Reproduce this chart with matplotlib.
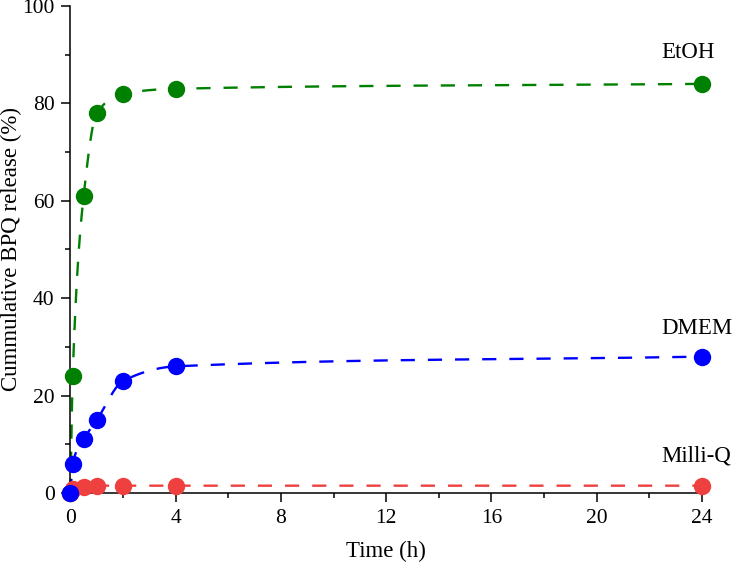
import numpy as np
import matplotlib
matplotlib.use("Agg")
import matplotlib.pyplot as plt
from matplotlib.ticker import MultipleLocator

# Datos
time_h = [0, 0.083, 0.5, 1, 2, 4, 24]
etoh = [0, 24, 61, 78, 82, 83, 84]
dmem = [0, 6, 11, 15, 23, 26, 28]
milliq = [0, 0.8, 1.3, 1.5, 1.5, 1.5, 1.5]

names = ["EtOH", "Milli-Q", "DMEM"]
colors = ["#008000", "#EF4040", "#0000FF"]
label_y = [90.5, 7.5, 33.8]


def smooth(x, y, n=400):
    # curva monotona (Fritsch-Carlson) solo para dibujar la linea
    x = np.asarray(x, float)
    y = np.asarray(y, float)
    h = np.diff(x)
    d = np.diff(y) / h
    m = np.zeros_like(y)
    m[0], m[-1] = d[0], d[-1]
    for i in range(1, len(x) - 1):
        if d[i - 1] * d[i] > 0:
            w1 = 2 * h[i] + h[i - 1]
            w2 = h[i] + 2 * h[i - 1]
            m[i] = (w1 + w2) / (w1 / d[i - 1] + w2 / d[i])
    xs, ys = [], []
    for i in range(len(x) - 1):
        t = np.linspace(0, 1, n)
        h00 = 2 * t**3 - 3 * t**2 + 1
        h10 = t**3 - 2 * t**2 + t
        h01 = -2 * t**3 + 3 * t**2
        h11 = t**3 - t**2
        xs.append(x[i] + t * h[i])
        ys.append(h00 * y[i] + h10 * h[i] * m[i] + h01 * y[i + 1] + h11 * h[i] * m[i + 1])
    return np.concatenate(xs), np.concatenate(ys)


plt.rcParams['font.family'] = ['Liberation Serif', 'DejaVu Serif']

fig = plt.figure(figsize=(7.35, 5.66), dpi=100)
ax = fig.add_axes([0.0959, 0.129, 0.8592, 0.8605])

for name, vals, c, ly in zip(names, [etoh, milliq, dmem], colors, label_y):
    xs, ys = smooth(time_h, vals)
    ax.plot(xs, ys, color=c, lw=1.7, linestyle=(0, (6.0, 5.5)), clip_on=False)
    ax.plot(time_h, vals, 'o', color=c, ms=11.5, clip_on=False, zorder=3)
    ax.text(22.45, ly, name, fontsize=16.5, va='center', ha='left')

ax.set_xlim(0, 24)
ax.set_ylim(0, 100)
ax.xaxis.set_major_locator(MultipleLocator(4))
ax.xaxis.set_minor_locator(MultipleLocator(2))
ax.yaxis.set_major_locator(MultipleLocator(20))
ax.yaxis.set_minor_locator(MultipleLocator(10))

for s in ['top', 'right']:
    ax.spines[s].set_visible(False)
for s in ['left', 'bottom']:
    ax.spines[s].set_linewidth(1.1)

ax.tick_params(which='major', direction='out', length=6.5, width=1.1,
               labelsize=15.5, pad=5)
ax.tick_params(which='minor', direction='out', length=3.5, width=1.1)

ax.set_xlabel("Time (h)", fontsize=16.5, labelpad=9)
ax.set_ylabel("Cummulative BPQ release (%)", fontsize=16.5, va='center')
ax.yaxis.set_label_coords(-0.094, 0.5)

fig.savefig("out.png", dpi=100)
